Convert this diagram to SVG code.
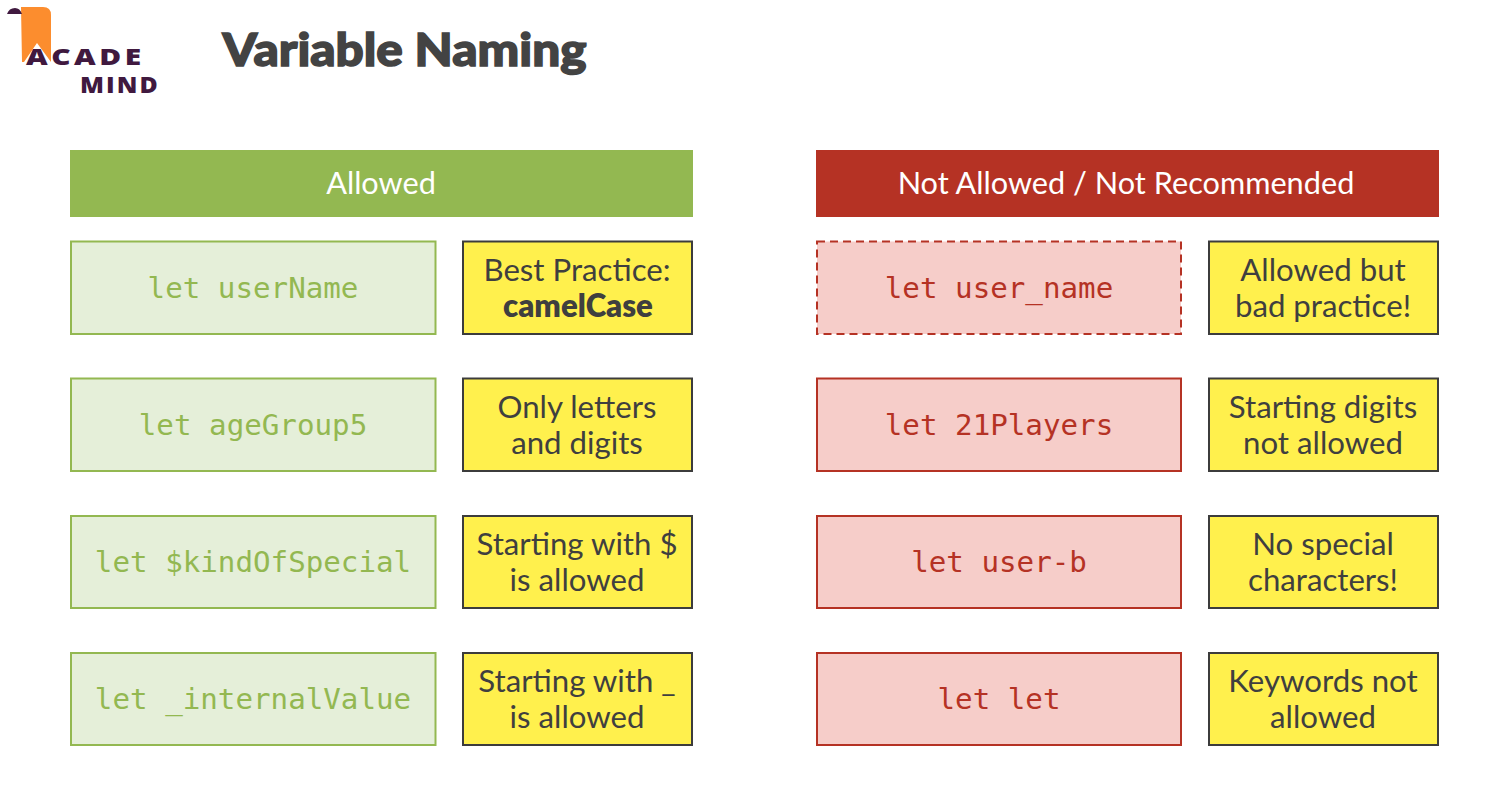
<svg xmlns="http://www.w3.org/2000/svg" width="1491" height="806" viewBox="0 0 1491 806">
<style>
text{text-anchor:middle}
.hd{font:400 30.7px Lato,"Noto Sans",sans-serif;fill:#fff}
.code{font:400 29.2px "DejaVu Sans Mono",monospace}
.g{fill:#e5efd9;stroke:#93b851;stroke-width:2}
.gt{fill:#93b851}
.r{fill:#f6cdc9;stroke:#b53224;stroke-width:2}
.rt{fill:#b53224}
.n{fill:#fff04d;stroke:#3c3c3c;stroke-width:2}
.nt{font:400 31.2px Lato,"Noto Sans",sans-serif;fill:#3f3f3f}
.logo{font:800 23px "Open Sans",sans-serif;fill:#40193f;text-anchor:start}
</style>
<rect width="1491" height="806" fill="#fff"/>
<g id="logo">
<path d="M21 7H43Q51 7 51 15V62L37 43 24 62H22Z" fill="#fc8d2e"/>
<path d="M7 14Q9 8 15 8 20 8 22 14Z" fill="#40193f"/>
<text class="logo" transform="translate(26 65) scale(1.3 1)" textLength="88.500" lengthAdjust="spacing">ACADE</text>
<text class="logo" transform="translate(80 93) scale(1.08 1)" textLength="72" lengthAdjust="spacing">MIND</text>
</g>
<text id="title" x="404.500" y="66" style="font:900 46px Lato,sans-serif;fill:#434343;stroke:#434343;stroke-width:1.500" textLength="364" lengthAdjust="spacingAndGlyphs">Variable Naming</text>
<g id="allowed-header"><rect x="70" y="150" width="623" height="67" fill="#93b851"/><text class="hd" x="381" y="194">Allowed</text></g>
<g id="not-allowed-header"><rect x="816" y="150" width="623" height="67" fill="#b53224"/><text class="hd" x="1126" y="194">Not Allowed / Not Recommended</text></g>

<g id="a1"><rect class="g" x="71" y="241.500" width="364.500" height="92.500"/><text class="code gt" x="253" y="298">let userName</text></g>
<g id="a2"><rect class="g" x="71" y="378.500" width="364.500" height="92.500"/><text class="code gt" x="253" y="435">let ageGroup5</text></g>
<g id="a3"><rect class="g" x="71" y="516" width="364.500" height="92"/><text class="code gt" x="253" y="572">let $kindOfSpecial</text></g>
<g id="a4"><rect class="g" x="71" y="653" width="364.500" height="92"/><text class="code gt" x="253" y="709">let _internalValue</text></g>

<g id="an1"><rect class="n" x="463" y="241.500" width="229" height="92.500"/><text class="nt" x="577" y="281">Best Practice:</text><text class="nt" x="578" y="316.500" style="font-weight:800">camelCase</text></g>
<g id="an2"><rect class="n" x="463" y="378.500" width="229" height="92.500"/><text class="nt" x="577" y="418">Only letters</text><text class="nt" x="577" y="454">and digits</text></g>
<g id="an3"><rect class="n" x="463" y="516" width="229" height="92"/><text class="nt" x="577" y="555">Starting with $</text><text class="nt" x="577" y="591">is allowed</text></g>
<g id="an4"><rect class="n" x="463" y="653" width="229" height="92"/><text class="nt" x="577" y="692">Starting with _</text><text class="nt" x="577" y="728">is allowed</text></g>

<g id="r1"><rect class="r" x="817" y="241.500" width="364" height="92.500" stroke-dasharray="8 5"/><text class="code rt" x="999" y="298">let user_name</text></g>
<g id="r2"><rect class="r" x="817" y="378.500" width="364" height="92.500"/><text class="code rt" x="999" y="435">let 21Players</text></g>
<g id="r3"><rect class="r" x="817" y="516" width="364" height="92"/><text class="code rt" x="999" y="572">let user-b</text></g>
<g id="r4"><rect class="r" x="817" y="653" width="364" height="92"/><text class="code rt" x="999" y="709">let let</text></g>

<g id="rn1"><rect class="n" x="1209" y="241.500" width="229" height="92.500"/><text class="nt" x="1323" y="281">Allowed but</text><text class="nt" x="1323" y="316.500">bad practice!</text></g>
<g id="rn2"><rect class="n" x="1209" y="378.500" width="229" height="92.500"/><text class="nt" x="1323" y="418">Starting digits</text><text class="nt" x="1323" y="454">not allowed</text></g>
<g id="rn3"><rect class="n" x="1209" y="516" width="229" height="92"/><text class="nt" x="1323" y="555">No special</text><text class="nt" x="1323" y="591">characters!</text></g>
<g id="rn4"><rect class="n" x="1209" y="653" width="229" height="92"/><text class="nt" x="1323" y="692">Keywords not</text><text class="nt" x="1323" y="728">allowed</text></g>
</svg>
